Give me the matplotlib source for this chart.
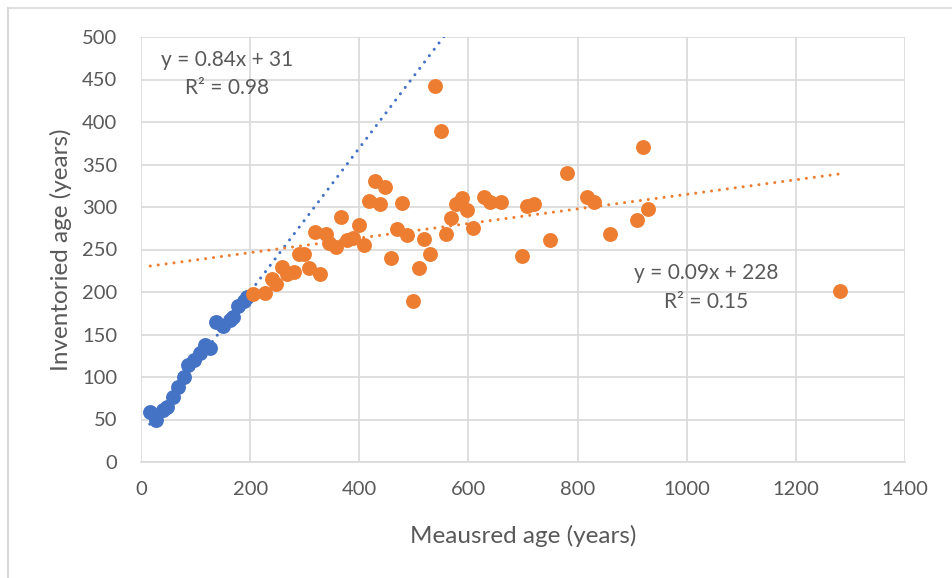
import matplotlib.pyplot as plt
import numpy as np
from matplotlib.lines import Line2D

blue_x = [16, 27, 41, 47, 58, 67, 78, 87, 98, 108, 117, 127, 138, 150, 163, 169, 178, 188, 195]
blue_y = [59, 50, 61, 65, 77, 88, 100, 114, 120, 128, 138, 134, 165, 160, 167, 171, 183, 189, 194]

orange_x = [206, 228, 240, 248, 258, 267, 280, 289, 298, 308, 328, 318, 339, 345, 358, 367,
            377, 388, 399, 408, 417, 428, 438, 448, 458, 469, 478, 488, 498, 509, 519, 529,
            539, 549, 558, 568, 578, 588, 597, 608, 628, 639, 660, 698, 708, 720, 749, 780,
            818, 830, 859, 909, 920, 929, 1281]
orange_y = [198, 199, 215, 210, 229, 221, 224, 245, 245, 228, 221, 271, 268, 258, 253, 288,
            261, 263, 279, 255, 307, 331, 304, 324, 240, 274, 305, 267, 190, 228, 262, 245,
            442, 389, 268, 287, 304, 311, 296, 275, 312, 306, 306, 242, 301, 304, 261, 340,
            312, 306, 268, 285, 371, 298, 201]

# trendlines (slope, intercept) as drawn
blue_fit = (0.846, 31)
orange_fit = (0.0858, 229.1)
blue_span = (16, 600)
orange_span = (17, 1281)

blue = '#4472C4'
orange = '#ED7D31'
txt = '#595959'
grid_c = '#D9D9D9'

plt.rcParams['font.family'] = ['Lato', 'DejaVu Sans']

fig = plt.figure(figsize=(9.52, 5.78), dpi=100)
ax = fig.add_axes([141/952, 116/578, (905-141)/952, (462-37)/578])

dots = (0, (0.01, 2.6))
bx = np.array(blue_span)
ax.plot(bx, blue_fit[0]*bx + blue_fit[1], color=blue, lw=2.2,
        linestyle=dots, dash_capstyle='round', zorder=2)
ox = np.array(orange_span)
ax.plot(ox, orange_fit[0]*ox + orange_fit[1], color=orange, lw=2.2,
        linestyle=dots, dash_capstyle='round', zorder=2)

ax.scatter(blue_x, blue_y, s=115, color=blue, zorder=3, linewidths=0)
ax.scatter(orange_x, orange_y, s=115, color=orange, zorder=4, linewidths=0)

ax.set_xlim(0, 1400)
ax.set_ylim(0, 500)
ax.set_xticks(range(0, 1401, 200))
ax.set_yticks(range(0, 501, 50))
ax.grid(True, color=grid_c, lw=1.2)
ax.set_axisbelow(True)
for s in ['top', 'right', 'left']:
    ax.spines[s].set_visible(False)
ax.spines['bottom'].set_color(grid_c)
ax.spines['bottom'].set_linewidth(1.2)
ax.tick_params(length=0, labelsize=14.5, colors=txt)
ax.tick_params(axis='y', pad=17)
ax.tick_params(axis='x', pad=14)

ax.set_xlabel('Meausred age (years)', fontsize=17.5, color=txt, labelpad=19)
ax.set_ylabel('Inventoried age (years)', fontsize=17.5, color=txt, labelpad=7)

ax.text(158, 473, 'y = 0.84x + 31', fontsize=15, color=txt, ha='center', va='center')
ax.text(158, 440, 'R² = 0.98', fontsize=15, color=txt, ha='center', va='center')
ax.text(1035, 222, 'y = 0.09x + 228', fontsize=15, color=txt, ha='center', va='center')
ax.text(1035, 188, 'R² = 0.15', fontsize=15, color=txt, ha='center', va='center')

# chart area border (left and top edges)
fig.lines.append(Line2D([7.5/952, 7.5/952], [0, 1 - 8/578], transform=fig.transFigure,
                        color=grid_c, lw=1.5))
fig.lines.append(Line2D([7.5/952, 1], [1 - 8/578, 1 - 8/578], transform=fig.transFigure,
                        color=grid_c, lw=1.2))

fig.savefig('out.png', dpi=100, facecolor='white')
